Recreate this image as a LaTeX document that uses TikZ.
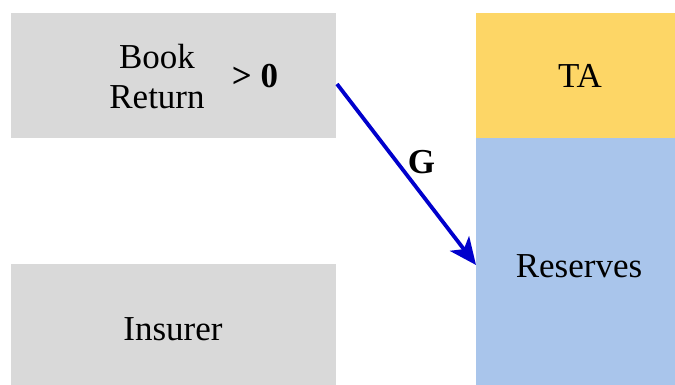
\documentclass[tikz,border=0pt]{standalone}
\usepackage{fontspec}
\setmainfont{Liberation Serif}
\usetikzlibrary{arrows.meta}
\definecolor{boxgray}{HTML}{D9D9D9}
\definecolor{tayellow}{HTML}{FDD666}
\definecolor{resblue}{HTML}{A9C5EB}
\definecolor{arrowblue}{HTML}{0000CC}
\begin{document}
\begin{tikzpicture}[x=1pt,y=-1pt,
  box/.style={draw=none,inner sep=0pt,outer sep=0pt,minimum width=#1},
  lbl/.style={font=\fontsize{35}{40}\selectfont,anchor=base,inner sep=0pt},
  blbl/.style={font=\fontsize{35}{40}\selectfont\bfseries,anchor=base,inner sep=0pt}]
\useasboundingbox (0,0) rectangle (675,385);
\node[box=325pt,minimum height=125pt,fill=boxgray] (book) at (173.5,75.5) {};
\node[box=325pt,minimum height=121pt,fill=boxgray] (ins) at (173.5,324.5) {};
\node[box=200pt,minimum height=125pt,fill=tayellow] (ta) at (575.5,75.5) {};
\node[box=199pt,minimum height=247pt,fill=resblue] (res) at (575.5,261.5) {};
\node[lbl] (t1) at (157,69) {Book};
\node[lbl] (t2) at (157,109) {Return};
\node[blbl] (gt) at (255,88) {> 0};
\node[lbl] (t3) at (173,340) {Insurer};
\node[lbl] (t4) at (580,88) {TA};
\node[lbl] (t5) at (579,277) {Reserves};
\draw[arrowblue,line width=3.8pt,-{Stealth[length=27pt,width=24pt,inset=7pt]}]
  ([xshift=1pt,yshift=-8.5pt]book.east) -- ([yshift=-3.5pt]res.west)
  node[pos=0.5,blbl,black,anchor=base,xshift=15pt,yshift=1pt] (g) {G};
\end{tikzpicture}
\end{document}
